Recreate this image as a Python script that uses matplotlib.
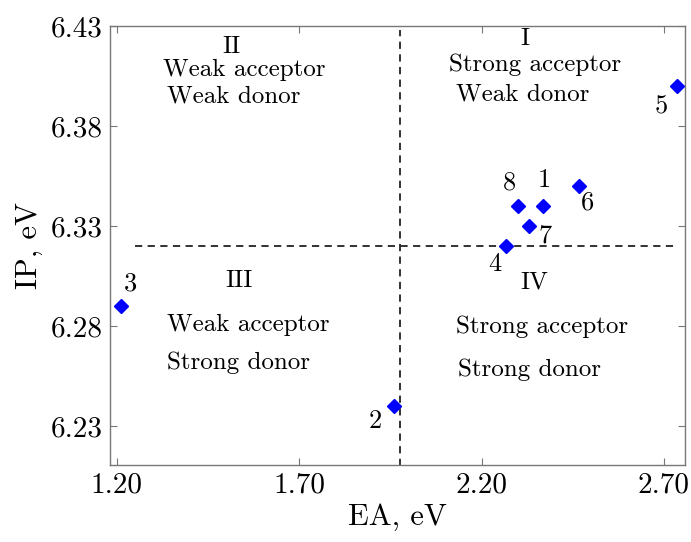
import matplotlib
matplotlib.use("Agg")
import matplotlib.pyplot as plt
from matplotlib.ticker import FormatStrFormatter

plt.rcParams["font.family"] = ["cmr10", "DejaVu Serif"]
plt.rcParams["mathtext.fontset"] = "cm"
plt.rcParams["axes.formatter.use_mathtext"] = True

# EA / IP of compounds 1-8
ea = [2.367, 1.959, 1.211, 2.268, 2.737, 2.468, 2.329, 2.299]
ip = [6.34, 6.24, 6.29, 6.32, 6.40, 6.35, 6.33, 6.34]
labels = ["1", "2", "3", "4", "5", "6", "7", "8"]
# label offsets in points (dx, dy)
label_off = [(1.5, 19), (-13, -11), (7, 16), (-8.6, -13), (-12, -15), (6, -12), (12, -7), (-6, 17)]

ea_split = 1.975
ip_split = 6.32

quad_text = [
    (1.515, 6.4165, "II", "center"),
    (1.326, 6.405, "Weak acceptor", "left"),
    (1.337, 6.392, "Weak donor", "left"),
    (2.318, 6.4205, "I", "center"),
    (2.112, 6.4075, "Strong acceptor", "left"),
    (2.129, 6.393, "Weak donor", "left"),
    (1.534, 6.2995, "III", "center"),
    (1.337, 6.2775, "Weak acceptor", "left"),
    (1.337, 6.2585, "Strong donor", "left"),
    (2.345, 6.299, "IV", "center"),
    (2.131, 6.2765, "Strong acceptor", "left"),
    (2.134, 6.255, "Strong donor", "left"),
]

fig = plt.figure(figsize=(6.91, 5.42), dpi=100)
ax = fig.add_axes([0.159, 0.142, 0.832, 0.810])

ax.plot([ea_split, ea_split], [6.21, 6.428], ls=(0, (4, 3)), color="#222222", lw=1.3)
ax.plot([1.25, 2.735], [ip_split, ip_split], ls=(0, (4, 3)), color="#222222", lw=1.3)

ax.plot(ea, ip, ls="none", marker="D", ms=7.5, color="#0000ff", zorder=3)
for x, y, t, (dx, dy) in zip(ea, ip, labels, label_off):
    ax.annotate(t, (x, y), xytext=(dx, dy), textcoords="offset points",
                ha="center", va="center", fontsize=19)

for x, y, t, ha in quad_text:
    ax.text(x, y, t, ha=ha, va="baseline", fontsize=18)

ax.set_xlim(1.181, 2.757)
ax.set_ylim(6.2105, 6.43)
ax.set_xticks([1.20, 1.70, 2.20, 2.70])
ax.set_yticks([6.23, 6.28, 6.33, 6.38, 6.43])
ax.xaxis.set_major_formatter(FormatStrFormatter("%.2f"))
ax.yaxis.set_major_formatter(FormatStrFormatter("%.2f"))
ax.tick_params(direction="in", top=True, right=True, labelsize=21, length=5,
               color="#777777", pad=5)
for s in ax.spines.values():
    s.set_color("#777777")
    s.set_linewidth(1.0)

ax.set_xlabel("EA, eV", fontsize=22, labelpad=4)
ax.set_ylabel("IP, eV", fontsize=22, labelpad=6)

fig.savefig("out.png", dpi=100)
